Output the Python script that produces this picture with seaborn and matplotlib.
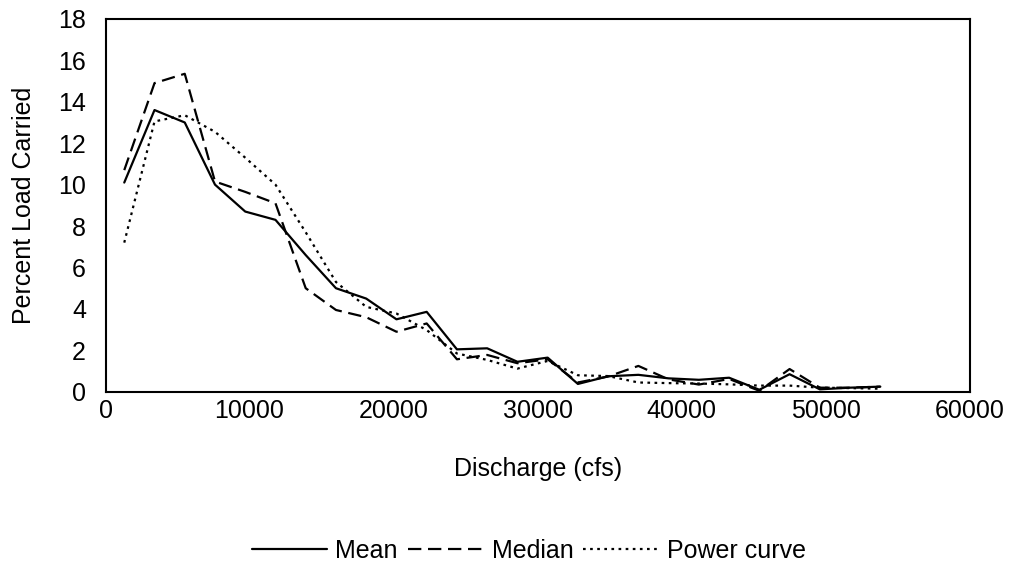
import seaborn as sns
import pandas as pd
import matplotlib.pyplot as plt

# discharge bin centres (cfs)
discharge = [1300, 3400, 5500, 7600, 9700, 11800, 13900, 16000, 18100, 20200,
             22300, 24400, 26500, 28600, 30700, 32800, 34900, 37000, 39100,
             41200, 43300, 45400, 47500, 49600, 51700, 53800]

mean_pct = [10.1, 13.6, 13.0, 10.0, 8.7, 8.3, 6.6, 5.0, 4.5, 3.5,
            3.86, 2.05, 2.1, 1.45, 1.65, 0.38, 0.75, 0.82, 0.65,
            0.58, 0.68, 0.1, 0.85, 0.12, 0.2, 0.25]

median_pct = [10.7, 14.9, 15.35, 10.15, 9.65, 9.1, 5.0, 3.95, 3.6, 2.9,
              3.3, 1.57, 1.78, 1.38, 1.57, 0.45, 0.74, 1.25, 0.6,
              0.35, 0.62, 0.05, 1.1, 0.2, 0.2, 0.25]

power_pct = [7.2, 13.05, 13.35, 12.55, 11.3, 10.0, 7.7, 5.3, 4.1, 3.78,
             2.98, 1.85, 1.54, 1.12, 1.49, 0.8, 0.76, 0.45, 0.42,
             0.4, 0.36, 0.3, 0.3, 0.2, 0.18, 0.15]

sns.set_style("white")
plt.rcParams['font.family'] = ['Liberation Sans', 'DejaVu Sans']
plt.rcParams['text.color'] = 'black'
plt.rcParams['axes.labelcolor'] = 'black'
plt.rcParams['xtick.color'] = 'black'
plt.rcParams['ytick.color'] = 'black'

df = pd.DataFrame({'discharge': discharge, 'Mean': mean_pct,
                   'Median': median_pct, 'Power curve': power_pct})

fig = plt.figure(figsize=(10.10, 5.72), dpi=100)
ax = fig.add_axes([0.1045, 0.315, 0.8555, 0.652])

sns.lineplot(data=df, x='discharge', y='Mean', ax=ax, color='black',
             linewidth=1.6, label='Mean')
sns.lineplot(data=df, x='discharge', y='Median', ax=ax, color='black',
             linewidth=1.6, label='Median')
sns.lineplot(data=df, x='discharge', y='Power curve', ax=ax, color='black',
             linewidth=1.6, label='Power curve')
ax.lines[1].set_dashes([6, 3])
ax.lines[2].set_dashes([1.2, 2.0])

ax.set_xlim(0, 60000)
ax.set_ylim(0, 18)
ax.set_xticks(range(0, 60001, 10000))
ax.set_yticks(range(0, 19, 2))
ax.tick_params(axis='both', direction='in', length=5, width=1, labelsize=18)
ax.tick_params(axis='y', pad=14)
ax.tick_params(axis='x', pad=5)
for s in ax.spines.values():
    s.set_color('black')
    s.set_linewidth(1.5)

ax.set_xlabel('Discharge (cfs)', fontsize=18, labelpad=25)
ax.set_ylabel('Percent Load Carried', fontsize=18, labelpad=16)

ax.legend(loc='upper center', bbox_to_anchor=(0.49, -0.333), ncol=3,
          frameon=False, fontsize=18, handlelength=3, handletextpad=0.35,
          columnspacing=0.4)

plt.savefig('out.png', dpi=100)
